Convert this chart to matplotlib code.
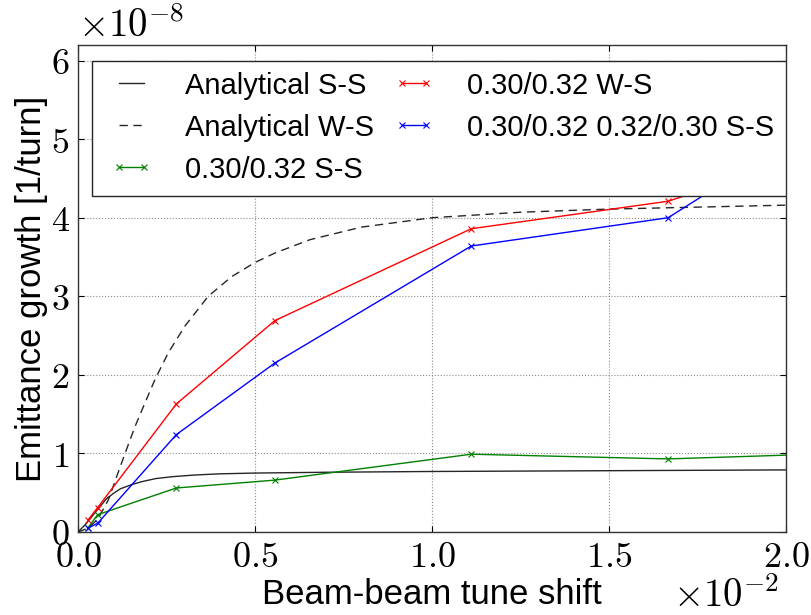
import matplotlib
matplotlib.use("Agg")
import matplotlib.pyplot as plt
from matplotlib.ticker import FuncFormatter, MultipleLocator
from matplotlib.patches import Rectangle

plt.rcParams['font.family'] = ['Liberation Sans', 'DejaVu Sans']
plt.rcParams['mathtext.fontset'] = 'cm'

# simulation tune shifts (x1e-2) and emittance growth (x1e-8)
x_sim = [0.0278, 0.0556, 0.278, 0.556, 1.111, 1.667, 2.222]
ss_030_032 = [0.05, 0.22, 0.56, 0.66, 0.99, 0.93, 1.01]
ws_030_032 = [0.15, 0.31, 1.63, 2.69, 3.86, 4.21, 5.03]
ss_mixed = [0.05, 0.11, 1.24, 2.15, 3.64, 4.00, 5.58]

# analytical curves (x1e-2, x1e-8)
x_ana_ss = [0.0, 0.02, 0.04, 0.06, 0.08, 0.10, 0.12, 0.15, 0.18, 0.22, 0.27,
            0.33, 0.40, 0.50, 0.70, 1.00, 1.50, 2.00]
ana_ss = [0.0, 0.09, 0.20, 0.31, 0.42, 0.49, 0.55, 0.60, 0.64, 0.68, 0.705,
          0.725, 0.74, 0.75, 0.76, 0.77, 0.78, 0.79]
x_ana_ws = [0.0, 0.03, 0.057, 0.086, 0.109, 0.133, 0.161, 0.189, 0.2175, 0.255,
            0.302, 0.368, 0.434, 0.50, 0.556, 0.655, 0.80, 1.00, 1.25, 1.50, 2.00]
ana_ws = [0.0, 0.05, 0.17, 0.41, 0.70, 1.00, 1.34, 1.64, 1.94, 2.28,
          2.62, 3.00, 3.25, 3.43, 3.55, 3.72, 3.88, 4.00, 4.07, 4.11, 4.16]

XS, YS = 1e-2, 1e-8

fig = plt.figure(figsize=(8.12, 6.15), dpi=100)
ax = fig.add_axes([0.096, 0.135, 0.872, 0.792])

ax.plot([v * XS for v in x_ana_ss], [v * YS for v in ana_ss], '-', color='k',
        lw=1.0, alpha=0.85, label='Analytical S-S')
ax.plot([v * XS for v in x_ana_ws], [v * YS for v in ana_ws], '--', color='k',
        lw=1.0, alpha=0.85, dashes=(6, 4), label='Analytical W-S')
ax.plot([v * XS for v in x_sim], [v * YS for v in ss_030_032], '-x', color=(0, 0.5, 0),
        lw=1.0, ms=5, mew=0.8, label='0.30/0.32 S-S')
ax.plot([v * XS for v in x_sim], [v * YS for v in ws_030_032], '-x', color='r',
        lw=1.0, ms=5, mew=0.8, label='0.30/0.32 W-S')
ax.plot([v * XS for v in x_sim], [v * YS for v in ss_mixed], '-x', color='b',
        lw=1.0, ms=5, mew=0.8, label='0.30/0.32 0.32/0.30 S-S')

ax.set_xlim(0, 2.0e-2)
ax.set_ylim(0, 6.2e-8)
ax.xaxis.set_major_locator(MultipleLocator(0.5e-2))
ax.yaxis.set_major_locator(MultipleLocator(1e-8))
ax.xaxis.set_major_formatter(FuncFormatter(lambda v, p: r'$%.1f$' % (v / XS)))
ax.yaxis.set_major_formatter(FuncFormatter(lambda v, p: r'$%d$' % round(v / YS)))
ax.tick_params(direction='in', top=True, right=True, labelsize=26, length=4,
               width=0.8, pad=6)
ax.grid(True, color='0.55', linestyle=':', linewidth=0.8)
for s in ax.spines.values():
    s.set_linewidth(1.0)
    s.set_color('0.2')

ax.text(0.0, 1.0, r'$\times10^{-8}$', transform=ax.transAxes, fontsize=28,
        ha='left', va='bottom')
ax.text(0.991, -0.092, r'$\times10^{-2}$', transform=ax.transAxes, fontsize=28,
        ha='right', va='top')

ax.set_xlabel('Beam-beam tune shift', fontsize=25, labelpad=2)
ax.set_ylabel('Emittance growth [1/turn]', fontsize=25, labelpad=2)

# legend frame
frame = Rectangle((0.02, 0.69), 0.98, 0.277, transform=ax.transAxes,
                  facecolor='white', edgecolor='0.15', linewidth=1.0, zorder=4)
ax.add_patch(frame)
leg = ax.legend(ncol=2, loc='upper left', bbox_to_anchor=(0.046, 0.945),
                fontsize=21, handlelength=1.45, handletextpad=1.1,
                labelspacing=0.48, columnspacing=0.65, borderaxespad=0.0,
                borderpad=0.0, frameon=False, numpoints=2)
leg.set_zorder(5)

fig.savefig('out.png', dpi=100)
